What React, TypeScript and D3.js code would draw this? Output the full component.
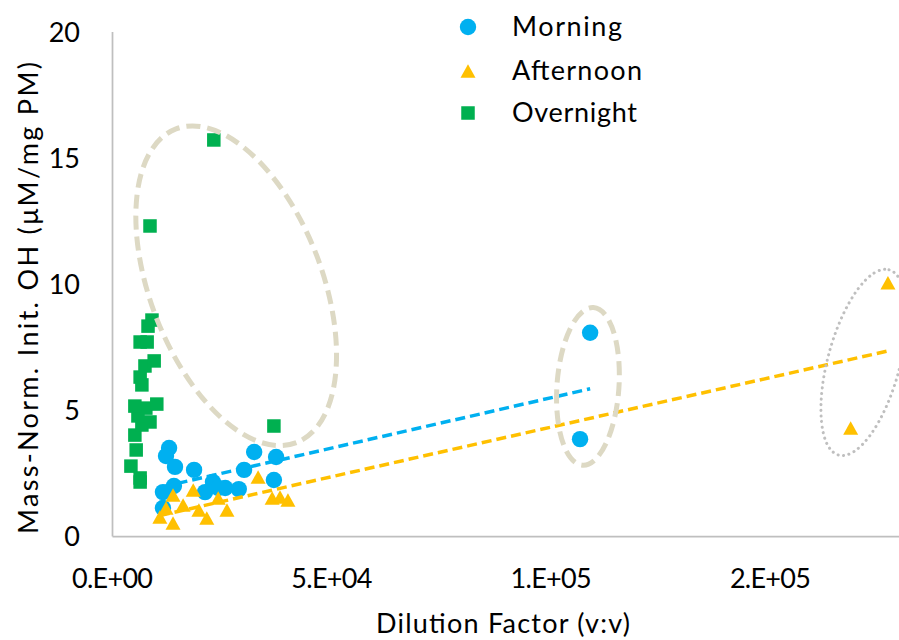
import React from 'react';
import * as d3 from 'd3';

// ---- data ----
const morningX = [12900, 12200, 14250, 18600, 11500, 14000, 21100, 22900, 25700, 28800, 30000, 32300, 37300, 36800, 11500, 24100, 108900, 106600];
const morningY = [3.51, 3.19, 2.76, 2.64, 1.76, 2.0, 1.76, 2.16, 1.92, 1.88, 2.64, 3.35, 3.15, 2.24, 1.13, 1.92, 8.08, 3.86];

const afternoonX = [10800, 12200, 13800, 13800, 16100, 18400, 19700, 21500, 24100, 26100, 33200, 36400, 38200, 40000, 168300, 176800];
const afternoonY = [0.77, 1.13, 1.65, 0.54, 1.25, 1.84, 1.05, 0.73, 1.53, 1.05, 2.36, 1.53, 1.57, 1.45, 4.3, 10.06];

const overnightX = [4200, 6300, 6300, 5400, 5100, 6700, 8550, 5800, 7600, 10100, 5100, 6700, 6300, 7400, 9500, 6300, 7900, 8100, 9000, 8550, 23100, 36800];
const overnightY = [2.79, 2.32, 2.16, 3.43, 4.02, 4.42, 4.54, 4.78, 5.09, 5.25, 5.17, 6.01, 6.32, 6.76, 6.96, 7.71, 7.71, 8.34, 8.58, 12.31, 15.72, 4.38];

const seriesNames = ['Morning', 'Afternoon', 'Overnight'];
const xTicks = [0, 50000, 100000, 150000];
const xTickLabels = ['0.E+00', '5.E+04', '1.E+05', '2.E+05'];
const yTicks = [0, 5, 10, 15, 20];
const yTickLabels = ['0', '5', '10', '15', '20'];

// annotation ellipse centres (data units)
const ellipseCX = [28200, 108400, 171300];
const ellipseCY = [9.94, 5.95, 6.9];

const BLUE = '#00b0f0';
const YELLOW = '#ffc000';
const GREEN = '#00b050';
const FONT = 'Lato, "Open Sans", sans-serif';

function fit(xs: number[], ys: number[]) {
  const n = xs.length;
  const mx = d3.mean(xs) as number;
  const my = d3.mean(ys) as number;
  let sxy = 0, sxx = 0;
  for (let i = 0; i < n; i++) {
    sxy += (xs[i] - mx) * (ys[i] - my);
    sxx += (xs[i] - mx) * (xs[i] - mx);
  }
  const slope = sxy / sxx;
  const intercept = my - slope * mx;
  const [x0, x1] = d3.extent(xs) as [number, number];
  return [
    [x0, intercept + slope * x0],
    [x1, intercept + slope * x1],
  ] as [number, number][];
}

function triPath(cx: number, cy: number, w: number, h: number) {
  return `M${cx},${cy - h / 2}L${cx + w / 2},${cy + h / 2}L${cx - w / 2},${cy + h / 2}Z`;
}

export default function App() {
  const W = 899, H = 640;
  const x = d3.scaleLinear().domain([0, 200000]).range([112.5, 989.7]);
  const y = d3.scaleLinear().domain([0, 20]).range([536.5, 32]);
  const line = d3.line<[number, number]>().x(d => x(d[0])).y(d => y(d[1]));

  const mFit = fit(morningX, morningY);
  const aFit = fit(afternoonX, afternoonY);

  const ellipseStyle = [
    { rx: 168, ry: 86, rot: 69, stroke: '#ddd9c4', width: 5, dash: '14 7', cap: 'butt' },
    { rx: 79, ry: 31, rot: -86, stroke: '#ddd9c4', width: 5, dash: '14 7', cap: 'butt' },
    { rx: 96, ry: 36, rot: -74.8, stroke: '#bfbfbf', width: 3, dash: '0.1 5.5', cap: 'round' },
  ];

  const legendY = [27, 71, 113];
  const legendLen = [110, 130, 125];
  const fs = 27;

  return (
    <svg width={W} height={H} style={{ position: 'absolute', left: 0, top: 0, background: '#fff' }} fontFamily={FONT}>
      <rect x={0} y={0} width={W} height={H} fill="#fff" />
      {/* axes */}
      <line x1={x(0)} x2={W} y1={y(0)} y2={y(0)} stroke="#bfbfbf" strokeWidth={1.75} />
      <line x1={x(0)} x2={x(0)} y1={y(0)} y2={y(20)} stroke="#bfbfbf" strokeWidth={1.75} />
      {yTicks.map((t, i) => (
        <text key={'yt' + i} x={80} y={y(t)} dy="0.36em" textAnchor="end" fontSize={fs} fill="#000">{yTickLabels[i]}</text>
      ))}
      {xTicks.map((t, i) => (
        <text key={'xt' + i} x={x(t)} y={588} textAnchor="middle" fontSize={fs} fill="#000"
          textLength={81} lengthAdjust="spacing">{xTickLabels[i]}</text>
      ))}
      <text x={503} y={633} textAnchor="middle" fontSize={fs} fill="#000" textLength={254} lengthAdjust="spacing">Dilution Factor (v:v)</text>
      <text transform={`translate(38,298) rotate(-90)`} textAnchor="middle" fontSize={fs} fill="#000"
        textLength={472} lengthAdjust="spacing">Mass-Norm. Init. OH (μM/mg PM)</text>

      {/* series */}
      {morningX.map((v, i) => (
        <circle key={'m' + i} cx={x(v)} cy={y(morningY[i])} r={8.2} fill={BLUE} />
      ))}
      {afternoonX.map((v, i) => (
        <path key={'a' + i} d={triPath(x(v), y(afternoonY[i]), 15, 13.5)} fill={YELLOW} />
      ))}
      {overnightX.map((v, i) => (
        <rect key={'o' + i} x={x(v) - 6.75} y={y(overnightY[i]) - 6.75} width={13.5} height={13.5} fill={GREEN} />
      ))}

      {/* trendlines */}
      <path d={line(mFit) as string} stroke={BLUE} strokeWidth={3.5} strokeDasharray="10 5" fill="none" />
      <path d={line(aFit) as string} stroke={YELLOW} strokeWidth={3.5} strokeDasharray="10 5" fill="none" />

      {/* annotation ellipses */}
      {ellipseCX.map((cxv, i) => {
        const s = ellipseStyle[i];
        const cx = x(cxv), cy = y(ellipseCY[i]);
        return (
          <ellipse key={'e' + i} cx={cx} cy={cy} rx={s.rx} ry={s.ry} transform={`rotate(${s.rot},${cx},${cy})`}
            fill="none" stroke={s.stroke} strokeWidth={s.width} strokeDasharray={s.dash} strokeLinecap={s.cap as any} />
        );
      })}

      {/* legend */}
      <circle cx={468} cy={legendY[0]} r={8.2} fill={BLUE} />
      <path d={triPath(468, legendY[1], 15, 13.5)} fill={YELLOW} />
      <rect x={468 - 6.75} y={legendY[2] - 6.75} width={13.5} height={13.5} fill={GREEN} />
      {seriesNames.map((s, i) => (
        <text key={'l' + i} x={512} y={legendY[i] + 9} fontSize={fs} fill="#000"
          textLength={legendLen[i]} lengthAdjust="spacing">{s}</text>
      ))}
    </svg>
  );
}
